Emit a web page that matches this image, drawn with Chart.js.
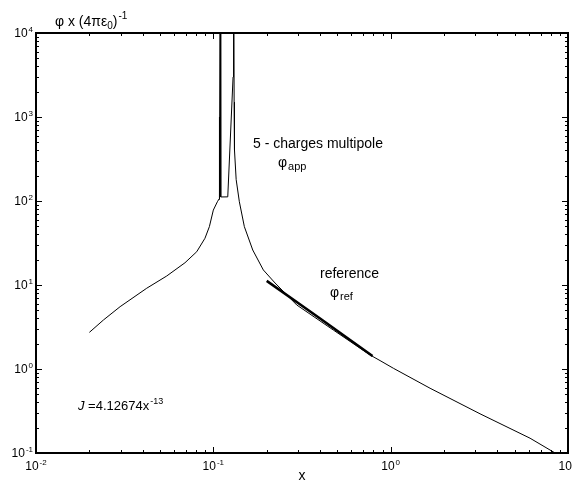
<!DOCTYPE html>
<html>
<head>
<meta charset="utf-8">
<script src="https://cdn.jsdelivr.net/npm/chart.js@4"></script>
<style>
    html, body { margin: 0; padding: 0; background: #fff; }
</style>
</head>
<body>
<canvas id="chart" width="573" height="484"></canvas>
<script>
// phi_app, 5-charge multipole (values above 1e4 run off the top of the frame)
const appX = [0.0200, 0.0240, 0.0298, 0.0421, 0.0546, 0.0692, 0.0806, 0.0897, 0.0950, 0.1000, 0.1054,
              0.1077, 0.1081, 0.1085, 0.1094, 0.1101, 0.1206, 0.1292, 0.1300, 0.1310, 0.1316,
              0.1345, 0.1402, 0.1496, 0.1668, 0.1914, 0.2229, 0.2954, 0.4750, 0.7650, 0.8710,
              1.036, 1.668, 3.19, 6.11, 8.46];
const appY = [2.73, 3.83, 5.52, 9.15, 12.8, 18.4, 24.9, 36.0, 49.5, 78, 98,
              105.6, 1000, 105, 1e6, 111.7, 112, 2990, 1e6, 1500, 405,
              180, 98, 49.5, 26.1, 15.1, 10.56, 5.78, 2.91, 1.47, 1.26,
              1.02, 0.59, 0.293, 0.15, 0.1];

// phi_ref, reference
const refX = [0.200, 0.400, 0.790];
const refY = [11.2, 4.0, 1.43];

// axes (log decades) and tick label exponents
const xDecades = [0.01, 0.1, 1, 10];
const xTickExp = ['-2', '-1', '0', '1'];
const yDecades = [0.1, 1, 10, 100, 1000, 10000];
const yTickExp = ['-1', '0', '1', '2', '3', '4'];

const FONT = '"Liberation Sans", Arial, sans-serif';

function toPoints(xs, ys) {
    return xs.map((x, i) => ({ x: x, y: ys[i] }));
}

// text with superscript, returns total width
function supText(ctx, base, sup, x, y, size, align) {
    ctx.font = size + 'px ' + FONT;
    const bw = ctx.measureText(base).width;
    ctx.font = Math.round(size * 0.7) + 'px ' + FONT;
    const sw = ctx.measureText(sup).width;
    const w = bw + sw + 1;
    let x0 = x;
    if (align === 'center') x0 = x - w / 2;
    if (align === 'right') x0 = x - w;
    ctx.textAlign = 'left';
    ctx.font = size + 'px ' + FONT;
    ctx.fillText(base, x0, y);
    ctx.font = Math.round(size * 0.7) + 'px ' + FONT;
    ctx.fillText(sup, x0 + bw + 1, y - size * 0.45);
    return w;
}

function subText(ctx, base, sub, x, y, size) {
    ctx.textAlign = 'left';
    ctx.font = size + 'px ' + FONT;
    ctx.fillText(base, x, y);
    const bw = ctx.measureText(base).width;
    ctx.font = Math.round(size * 0.75) + 'px ' + FONT;
    ctx.fillText(sub, x + bw + 1, y + 3);
}

// frame, inward ticks, labels and annotations
const framePlugin = {
    id: 'framePlugin',
    afterDatasetsDraw(chart) {
        const { ctx, chartArea: a, scales: { x, y } } = chart;
        ctx.save();
        ctx.strokeStyle = '#000';
        ctx.fillStyle = '#000';

        // ticks
        ctx.lineWidth = 1;
        ctx.beginPath();
        xDecades.forEach((d, i) => {
            const px = Math.round(x.getPixelForValue(d)) + 0.5;
            ctx.moveTo(px, a.bottom); ctx.lineTo(px, a.bottom - 6);
            ctx.moveTo(px, a.top); ctx.lineTo(px, a.top + 6);
            if (i === xDecades.length - 1) return;
            for (let m = 2; m <= 9; m++) {
                const mx = Math.round(x.getPixelForValue(d * m)) + 0.5;
                ctx.moveTo(mx, a.bottom); ctx.lineTo(mx, a.bottom - 3);
                ctx.moveTo(mx, a.top); ctx.lineTo(mx, a.top + 3);
            }
        });
        yDecades.forEach((d, i) => {
            const py = Math.round(y.getPixelForValue(d)) + 0.5;
            ctx.moveTo(a.left, py); ctx.lineTo(a.left + 6, py);
            ctx.moveTo(a.right, py); ctx.lineTo(a.right - 6, py);
            if (i === yDecades.length - 1) return;
            for (let m = 2; m <= 9; m++) {
                const my = Math.round(y.getPixelForValue(d * m)) + 0.5;
                ctx.moveTo(a.left, my); ctx.lineTo(a.left + 3, my);
                ctx.moveTo(a.right, my); ctx.lineTo(a.right - 3, my);
            }
        });
        ctx.stroke();

        // frame
        ctx.lineWidth = 2;
        ctx.strokeRect(a.left, a.top, a.right - a.left, a.bottom - a.top);

        // tick labels
        ctx.textBaseline = 'alphabetic';
        xDecades.forEach((d, i) => {
            supText(ctx, '10', xTickExp[i], x.getPixelForValue(d), a.bottom + 17, 12, 'center');
        });
        yDecades.forEach((d, i) => {
            supText(ctx, '10', yTickExp[i], a.left - 3, y.getPixelForValue(d) + 4, 12, 'right');
        });

        // axis titles
        ctx.font = '14px ' + FONT;
        ctx.textAlign = 'center';
        ctx.fillText('x', (a.left + a.right) / 2, 480);

        ctx.textAlign = 'left';
        ctx.font = '14px ' + FONT;
        let tx = 55;
        ctx.fillText('\u03c6 x (4\u03c0\u03b5', tx, 26);
        tx += ctx.measureText('\u03c6 x (4\u03c0\u03b5').width;
        ctx.font = '10px ' + FONT;
        ctx.fillText('0', tx, 29);
        tx += ctx.measureText('0').width;
        ctx.font = '14px ' + FONT;
        ctx.fillText(')', tx, 26);
        tx += ctx.measureText(')').width + 1;
        ctx.font = '10px ' + FONT;
        ctx.fillText('-1', tx, 19);

        // annotations
        ctx.font = '14px ' + FONT;
        ctx.fillText('5 - charges multipole', 253, 148);
        subText(ctx, '\u03c6', 'app', 278, 167, 14);
        ctx.font = '14px ' + FONT;
        ctx.fillText('reference', 320, 278);
        subText(ctx, '\u03c6', 'ref', 330, 297, 14);

        ctx.font = 'italic 13px ' + FONT;
        ctx.fillText('J', 78, 410);
        const jw = ctx.measureText('J ').width;
        supText(ctx, '=4.12674x', '-13', 78 + jw, 410, 13, 'left');

        ctx.restore();
    }
};

new Chart(document.getElementById('chart'), {
    type: 'scatter',
    data: {
        datasets: [
            {
                label: 'phi app',
                data: toPoints(appX, appY),
                showLine: true,
                borderColor: '#000',
                borderWidth: 1,
                pointRadius: 0,
                tension: 0
            },
            {
                label: 'phi ref',
                data: toPoints(refX, refY),
                showLine: true,
                borderColor: '#000',
                borderWidth: 2.5,
                pointRadius: 0,
                tension: 0
            }
        ]
    },
    options: {
        responsive: false,
        animation: false,
        devicePixelRatio: 1,
        layout: { padding: { left: 36, right: 5, top: 33, bottom: 31 } },
        plugins: {
            legend: { display: false },
            tooltip: { enabled: false }
        },
        scales: {
            x: { type: 'logarithmic', min: 0.01, max: 10, display: false },
            y: { type: 'logarithmic', min: 0.1, max: 10000, display: false }
        }
    },
    plugins: [framePlugin]
});
</script>
</body>
</html>
